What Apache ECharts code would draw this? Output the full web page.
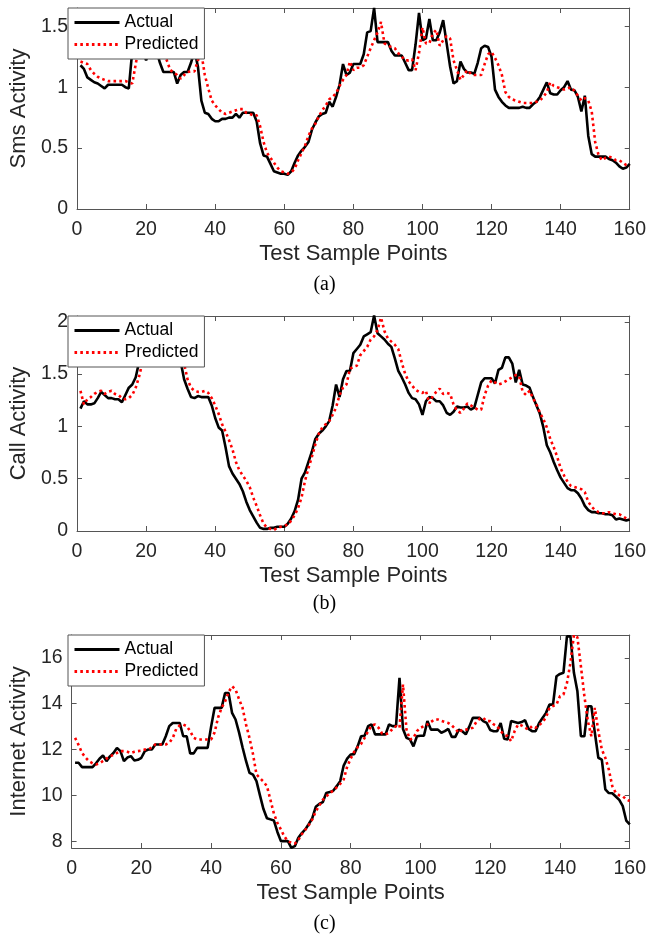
<!DOCTYPE html>
<html>
<head>
<meta charset="utf-8">
<script src="https://cdn.jsdelivr.net/npm/echarts@6/dist/echarts.min.js"></script>
<style>
html,body{margin:0;padding:0;background:#fff;}
#chart{width:649px;height:942px;}
</style>
</head>
<body>
<div id="chart"></div>
<script>
// ---- Data (sample index 1..160) ----
var smsActual = [1.18,1.15,1.08,1.06,1.04,1.03,1.01,0.99,1.02,1.02,1.02,1.02,1.02,1.00,0.99,1.30,1.42,1.40,1.30,1.22,
1.30,1.35,1.30,1.20,1.125,1.125,1.125,1.125,1.03,1.10,1.125,1.125,1.20,1.30,1.17,0.89,0.79,0.78,0.74,0.72,
0.72,0.74,0.74,0.75,0.75,0.78,0.75,0.79,0.79,0.79,0.79,0.72,0.54,0.44,0.43,0.37,0.31,0.30,0.29,0.29,
0.28,0.31,0.38,0.44,0.48,0.51,0.55,0.65,0.71,0.76,0.78,0.79,0.88,0.84,0.92,1.02,1.19,1.10,1.12,1.19,
1.19,1.19,1.27,1.45,1.46,1.65,1.37,1.37,1.37,1.37,1.30,1.26,1.26,1.26,1.20,1.14,1.14,1.35,1.61,1.385,
1.40,1.56,1.385,1.385,1.45,1.55,1.36,1.17,1.03,1.05,1.21,1.15,1.12,1.12,1.11,1.20,1.32,1.34,1.33,1.25,
0.98,0.92,0.88,0.85,0.83,0.83,0.83,0.83,0.84,0.83,0.83,0.86,0.88,0.92,0.98,1.04,0.95,0.94,0.94,0.975,
1.00,1.05,0.98,0.975,0.92,0.80,0.93,0.60,0.45,0.43,0.43,0.43,0.43,0.41,0.40,0.38,0.35,0.33,0.34,0.37];
var smsPredicted = [1.21,1.20,1.19,1.14,1.11,1.085,1.07,1.06,1.05,1.05,1.05,1.05,1.05,1.05,1.04,1.03,1.19,1.35,1.42,1.40,
1.30,1.25,1.30,1.32,1.28,1.22,1.14,1.12,1.10,1.07,1.10,1.125,1.13,1.13,1.22,1.28,1.10,0.99,0.89,0.85,
0.82,0.79,0.78,0.79,0.80,0.81,0.82,0.82,0.79,0.78,0.77,0.77,0.68,0.55,0.46,0.42,0.38,0.34,0.31,0.30,
0.29,0.30,0.33,0.40,0.46,0.52,0.60,0.66,0.70,0.76,0.81,0.85,0.90,0.92,0.95,1.01,1.06,1.10,1.21,1.14,
1.16,1.16,1.18,1.25,1.32,1.385,1.45,1.535,1.36,1.34,1.33,1.32,1.28,1.25,1.22,1.22,1.23,1.14,1.28,1.49,
1.36,1.36,1.44,1.47,1.34,1.385,1.42,1.40,1.22,1.14,1.06,1.10,1.14,1.11,1.10,1.10,1.10,1.19,1.27,1.29,
1.24,1.18,1.10,0.96,0.92,0.90,0.89,0.88,0.87,0.87,0.87,0.87,0.88,0.89,0.92,0.96,1.04,1.01,1.00,0.99,
0.98,0.99,1.00,0.97,0.93,0.89,0.91,0.89,0.80,0.55,0.44,0.40,0.42,0.43,0.42,0.40,0.40,0.38,0.36,0.35];

var callActual = [1.17,1.24,1.21,1.21,1.22,1.27,1.33,1.30,1.27,1.27,1.26,1.26,1.23,1.30,1.37,1.40,1.47,1.62,1.75,1.85,
1.95,1.95,1.90,1.95,1.90,1.85,1.80,1.75,1.70,1.62,1.45,1.36,1.28,1.27,1.29,1.28,1.28,1.28,1.20,1.08,
0.99,0.96,0.80,0.62,0.55,0.50,0.45,0.38,0.28,0.20,0.14,0.08,0.03,0.02,0.02,0.03,0.03,0.04,0.04,0.04,
0.07,0.12,0.19,0.30,0.50,0.56,0.66,0.76,0.88,0.93,0.96,1.00,1.05,1.20,1.40,1.28,1.45,1.53,1.53,1.70,
1.74,1.78,1.86,1.88,1.90,2.06,1.89,1.86,1.83,1.79,1.76,1.65,1.53,1.47,1.40,1.32,1.27,1.26,1.21,1.11,
1.24,1.28,1.27,1.24,1.24,1.20,1.13,1.11,1.14,1.19,1.18,1.18,1.19,1.16,1.18,1.30,1.42,1.46,1.46,1.46,
1.41,1.54,1.56,1.66,1.66,1.60,1.42,1.54,1.40,1.39,1.37,1.28,1.20,1.12,0.99,0.82,0.75,0.66,0.58,0.51,
0.46,0.41,0.39,0.39,0.36,0.31,0.24,0.20,0.18,0.18,0.17,0.17,0.16,0.16,0.15,0.11,0.12,0.11,0.10,0.11];
var callPredicted = [1.34,1.21,1.26,1.28,1.31,1.33,1.34,1.31,1.33,1.34,1.31,1.30,1.27,1.26,1.27,1.30,1.37,1.48,1.62,1.75,
1.85,1.92,1.95,1.93,1.92,1.90,1.85,1.80,1.75,1.68,1.60,1.45,1.37,1.34,1.33,1.33,1.34,1.32,1.27,1.20,
1.12,1.02,0.95,0.87,0.78,0.66,0.58,0.53,0.48,0.42,0.32,0.24,0.15,0.07,0.03,0.02,0.01,0.03,0.04,0.05,
0.06,0.10,0.15,0.22,0.32,0.48,0.60,0.71,0.83,0.93,0.99,1.02,1.05,1.11,1.18,1.30,1.37,1.40,1.55,1.57,
1.58,1.68,1.72,1.76,1.83,1.86,1.92,2.04,1.91,1.84,1.81,1.78,1.74,1.61,1.50,1.43,1.39,1.35,1.33,1.32,
1.34,1.22,1.29,1.33,1.36,1.31,1.32,1.31,1.21,1.15,1.13,1.17,1.22,1.20,1.18,1.16,1.16,1.30,1.39,1.44,
1.42,1.40,1.41,1.43,1.45,1.47,1.49,1.48,1.33,1.30,1.34,1.27,1.21,1.13,1.07,0.99,0.88,0.80,0.71,0.60,
0.53,0.47,0.43,0.42,0.41,0.40,0.37,0.28,0.23,0.20,0.18,0.17,0.17,0.18,0.17,0.16,0.16,0.14,0.12,0.12];

var netActual = [11.42,11.42,11.23,11.23,11.23,11.23,11.40,11.60,11.74,11.49,11.70,11.85,12.07,11.93,11.49,11.65,11.71,11.52,11.55,11.64,
11.93,12.00,12.00,12.22,12.22,12.22,12.58,13.02,13.16,13.16,13.16,12.58,12.58,11.83,11.83,12.07,12.07,12.07,12.07,13.00,
13.82,13.82,13.82,14.47,14.47,13.60,13.31,12.75,12.10,11.50,10.98,10.90,10.62,10.00,9.40,9.00,8.95,8.90,8.40,8.00,
8.00,8.00,7.71,7.78,8.15,8.35,8.51,8.75,9.00,9.50,9.62,9.70,10.10,10.14,10.20,10.40,10.62,11.30,11.60,11.78,
11.80,12.14,12.58,12.60,13.02,13.10,12.66,12.66,12.66,12.66,13.09,13.02,13.02,15.13,12.90,12.51,12.44,12.14,12.58,12.60,
12.60,13.24,12.87,12.87,12.87,12.73,12.80,12.90,12.55,12.55,12.87,12.80,12.66,13.00,13.38,13.38,13.38,13.24,13.16,12.85,
12.80,12.80,13.16,12.47,12.44,13.24,13.20,13.16,13.20,13.28,12.90,12.80,12.80,13.15,13.38,13.60,13.96,13.96,15.20,15.30,
15.35,16.94,16.94,15.35,14.54,12.58,12.58,13.89,13.89,12.73,11.64,11.56,10.26,10.10,10.09,9.95,9.80,9.53,8.90,8.73];
var netPredicted = [12.51,12.20,11.85,11.65,11.49,11.40,11.35,11.40,11.50,11.60,11.71,11.76,11.85,11.93,11.93,11.90,11.85,11.90,11.93,11.95,
12.00,12.00,12.10,12.22,12.22,12.22,12.22,12.29,12.50,12.90,13.05,13.09,13.02,12.80,12.51,12.44,12.44,12.44,12.44,12.44,
12.75,13.40,13.82,14.10,14.50,14.76,14.62,14.20,13.82,13.10,12.50,11.80,10.91,10.75,10.60,10.40,9.80,9.20,8.80,8.51,
8.20,8.00,7.93,7.89,8.05,8.30,8.50,8.70,8.95,9.30,9.55,9.80,9.95,10.10,10.20,10.35,10.50,10.69,11.25,11.60,
11.90,12.10,12.25,12.51,12.80,13.05,13.09,12.95,12.70,12.66,12.73,12.90,13.02,12.95,14.84,12.87,12.44,12.50,12.80,12.95,
13.02,13.09,13.20,13.31,13.31,13.25,13.20,13.16,13.05,12.90,12.73,12.87,12.87,12.90,12.95,13.20,13.35,13.38,13.24,13.24,
13.10,13.02,12.80,12.65,12.58,12.36,12.80,13.09,13.05,12.95,12.87,13.02,12.95,13.05,13.20,13.40,13.82,13.90,13.96,14.33,
14.40,14.90,15.78,17.00,16.90,15.64,14.33,13.24,12.58,13.82,12.80,12.00,11.64,11.13,10.40,10.11,10.00,9.96,9.82,9.75];

var xTicks = [0,20,40,60,80,100,120,140,160];
var smsTicks = [0,0.5,1,1.5];
var callTicks = [0,0.5,1,1.5,2];
var netTicks = [8,10,12,14,16];
var yNames = ['Sms Activity','Call Activity','Internet Activity'];
var captions = ['(a)','(b)','(c)'];
var seriesNames = ['Actual','Predicted'];

// ---- Build chart ----
var FONT = '"Liberation Sans", Arial, Helvetica, sans-serif';
var AX = '#555555';
var TXT = '#262626';
var panels = [
  {act: smsActual, pred: smsPredicted, ticks: smsTicks, min: 0, max: 1.65, top: 8, height: 201, cap: 286},
  {act: callActual, pred: callPredicted, ticks: callTicks, min: 0, max: 2.055, top: 316, height: 215, cap: 605},
  {act: netActual, pred: netPredicted, ticks: netTicks, min: 7.7, max: 17.0, top: 635, height: 213, cap: 925}
];
function pairs(arr){ return arr.map(function(v,i){ return [i+1, v]; }); }

var grids = [], xAxes = [], yAxes = [], series = [], legends = [], graphics = [];
panels.forEach(function(p, k){
  grids.push({left: 67.6, right: 15.5, top: p.top, height: p.height, containLabel: false});
  var tickStyle = {show: true, inside: true, length: 5, lineStyle: {color: AX, width: 1}};
  xAxes.push({type: 'value', gridIndex: k, min: 0, max: 160, interval: 20, position: 'bottom',
    name: 'Test Sample Points', nameLocation: 'middle', nameGap: 34,
    nameTextStyle: {fontFamily: FONT, fontSize: 22, color: TXT},
    axisLine: {show: true, onZero: false, lineStyle: {color: AX, width: 1}},
    axisTick: tickStyle, splitLine: {show: false},
    axisLabel: {fontFamily: FONT, fontSize: 19.5, color: TXT, margin: 11, showMinLabel: true, showMaxLabel: true}});
  xAxes.push({type: 'value', gridIndex: k, min: 0, max: 160, interval: 20, position: 'top',
    axisLine: {show: true, onZero: false, lineStyle: {color: AX, width: 1}},
    axisTick: tickStyle, splitLine: {show: false}, axisLabel: {show: false}});
  yAxes.push({type: 'value', gridIndex: k, min: p.min, max: p.max, position: 'left',
    name: yNames[k], nameLocation: 'middle', nameGap: 40,
    nameTextStyle: {fontFamily: FONT, fontSize: 22, color: TXT},
    axisLine: {show: true, onZero: false, lineStyle: {color: AX, width: 1}},
    axisTick: {show: true, inside: true, length: 5, lineStyle: {color: AX, width: 1}, customValues: p.ticks},
    splitLine: {show: false},
    axisLabel: {fontFamily: FONT, fontSize: 19.5, color: TXT, margin: 9, customValues: p.ticks}});
  yAxes.push({type: 'value', gridIndex: k, min: p.min, max: p.max, position: 'right',
    axisLine: {show: true, onZero: false, lineStyle: {color: AX, width: 1}},
    axisTick: {show: true, inside: true, length: 5, lineStyle: {color: AX, width: 1}, customValues: p.ticks},
    splitLine: {show: false}, axisLabel: {show: false}});
  series.push({name: seriesNames[0], type: 'line', xAxisIndex: 2*k, yAxisIndex: 2*k, data: pairs(p.act),
    showSymbol: false, symbol: 'none', clip: true, z: 2,
    lineStyle: {color: '#000000', width: 2.6, type: 'solid'}, itemStyle: {color: '#000000'}});
  series.push({name: seriesNames[1], type: 'line', xAxisIndex: 2*k, yAxisIndex: 2*k, data: pairs(p.pred),
    showSymbol: false, symbol: 'none', clip: true, z: 3,
    lineStyle: {color: '#ff0000', width: 2.6, type: [2.6, 3.2]}, itemStyle: {color: '#ff0000'}});
  legends.push({data: seriesNames, orient: 'vertical', left: 68, top: p.top, padding: [5, 6, 5, 5],
    itemGap: 3, itemWidth: 45, itemHeight: 14, backgroundColor: '#ffffff', borderColor: AX, borderWidth: 1,
    borderRadius: 0, selectedMode: false, z: 10,
    itemStyle: {opacity: 0},
    lineStyle: {width: 3},
    textStyle: {fontFamily: FONT, fontSize: 17.5, color: '#000000', lineHeight: 19, padding: [0,0,0,0]}});
  graphics.push({type: 'text', left: 'center', top: p.cap - 11, style: {text: captions[k],
    font: '20px "Liberation Serif", "Times New Roman", serif', fill: '#000000'}});
});

var chart = echarts.init(document.getElementById('chart'), null, {renderer: 'canvas'});
chart.setOption({
  animation: false,
  backgroundColor: '#ffffff',
  grid: grids, xAxis: xAxes, yAxis: yAxes, series: series, legend: legends, graphic: graphics
});
</script>
</body>
</html>
